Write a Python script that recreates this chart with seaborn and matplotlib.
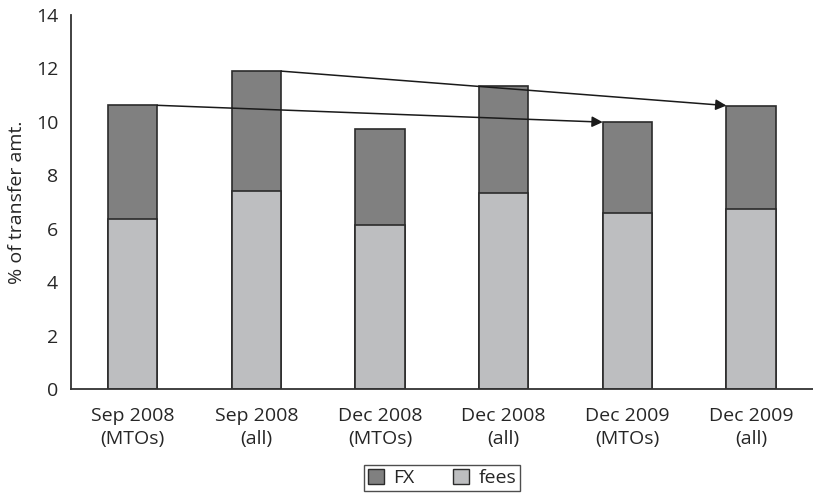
import numpy as np
import pandas as pd
import seaborn as sns
import matplotlib.pyplot as plt
from matplotlib.patches import Patch
from matplotlib.ticker import FixedLocator, NullFormatter

categories = ["Sep 2008\n(MTOs)", "Sep 2008\n(all)", "Dec 2008\n(MTOs)",
              "Dec 2008\n(all)", "Dec 2009\n(MTOs)", "Dec 2009\n(all)"]
fees = [6.37, 7.42, 6.15, 7.33, 6.58, 6.74]
fx = [4.25, 4.48, 3.59, 4.02, 3.41, 3.87]
# arrows: from bar -> to bar
arrow_pairs = [(0, 4), (1, 5)]

sns.set_style("white")
plt.rcParams["font.family"] = ["Open Sans", "DejaVu Sans"]

df = pd.DataFrame({"cat": categories, "fees": fees, "fx": fx})
df["total"] = df["fees"] + df["fx"]

fig = plt.figure(figsize=(8.13, 4.94), dpi=100)
ax = fig.add_axes([0.087, 0.2126, 0.913, 0.757])

fx_color = "#808080"
fees_color = "#bdbec0"
edge = "#2b2b2b"
width = 0.4
fs = 14

sns.barplot(data=df, x="cat", y="total", color=fx_color, edgecolor=edge,
            linewidth=1.2, width=width, saturation=1, ax=ax)
sns.barplot(data=df, x="cat", y="fees", color=fees_color, edgecolor=edge,
            linewidth=1.2, width=width, saturation=1, ax=ax)

for a, b in arrow_pairs:
    ax.annotate("", xy=(b - width / 2, df["total"][b]),
                xytext=(a + width / 2, df["total"][a]),
                arrowprops=dict(arrowstyle="-|>", color="#1a1a1a", lw=1.1,
                                mutation_scale=16, shrinkA=0, shrinkB=0))

ax.set_xlim(-0.5, 5.5)
ax.set_ylim(0, 14)
ax.set_yticks(np.arange(0, 15, 2))
ax.set_xlabel("")
ax.set_ylabel("% of transfer amt.", fontsize=fs, labelpad=7)

# labels centred, ticks at category boundaries
ax.xaxis.set_major_locator(FixedLocator(np.arange(-0.5, 6, 1)))
ax.xaxis.set_major_formatter(NullFormatter())
ax.xaxis.set_minor_locator(FixedLocator(np.arange(6)))
ax.set_xticklabels(categories, minor=True, linespacing=1.35)
ax.tick_params(axis="x", which="major", direction="out", length=7, width=1.2, color="#333333")
ax.tick_params(axis="x", which="minor", length=0, pad=13, labelsize=fs)
ax.tick_params(axis="y", direction="out", length=6, width=1.2, color="#333333",
               labelsize=fs, pad=3)

sns.despine(ax=ax)
for s in ["left", "bottom"]:
    ax.spines[s].set_color("#333333")
    ax.spines[s].set_linewidth(1.3)

handles = [Patch(facecolor=fx_color, edgecolor=edge, label="FX"),
           Patch(facecolor=fees_color, edgecolor=edge, label="fees")]
leg = fig.legend(handles=handles, loc="upper center", bbox_to_anchor=(0.544, 0.058),
                 ncol=2, frameon=True, fancybox=False, fontsize=fs,
                 handlelength=0.8, handleheight=0.8, handletextpad=0.5,
                 columnspacing=2.0, borderpad=0.2, borderaxespad=0)
leg.get_frame().set_edgecolor("#222222")
leg.get_frame().set_linewidth(1.0)

fig.savefig("out.png", dpi=100)
